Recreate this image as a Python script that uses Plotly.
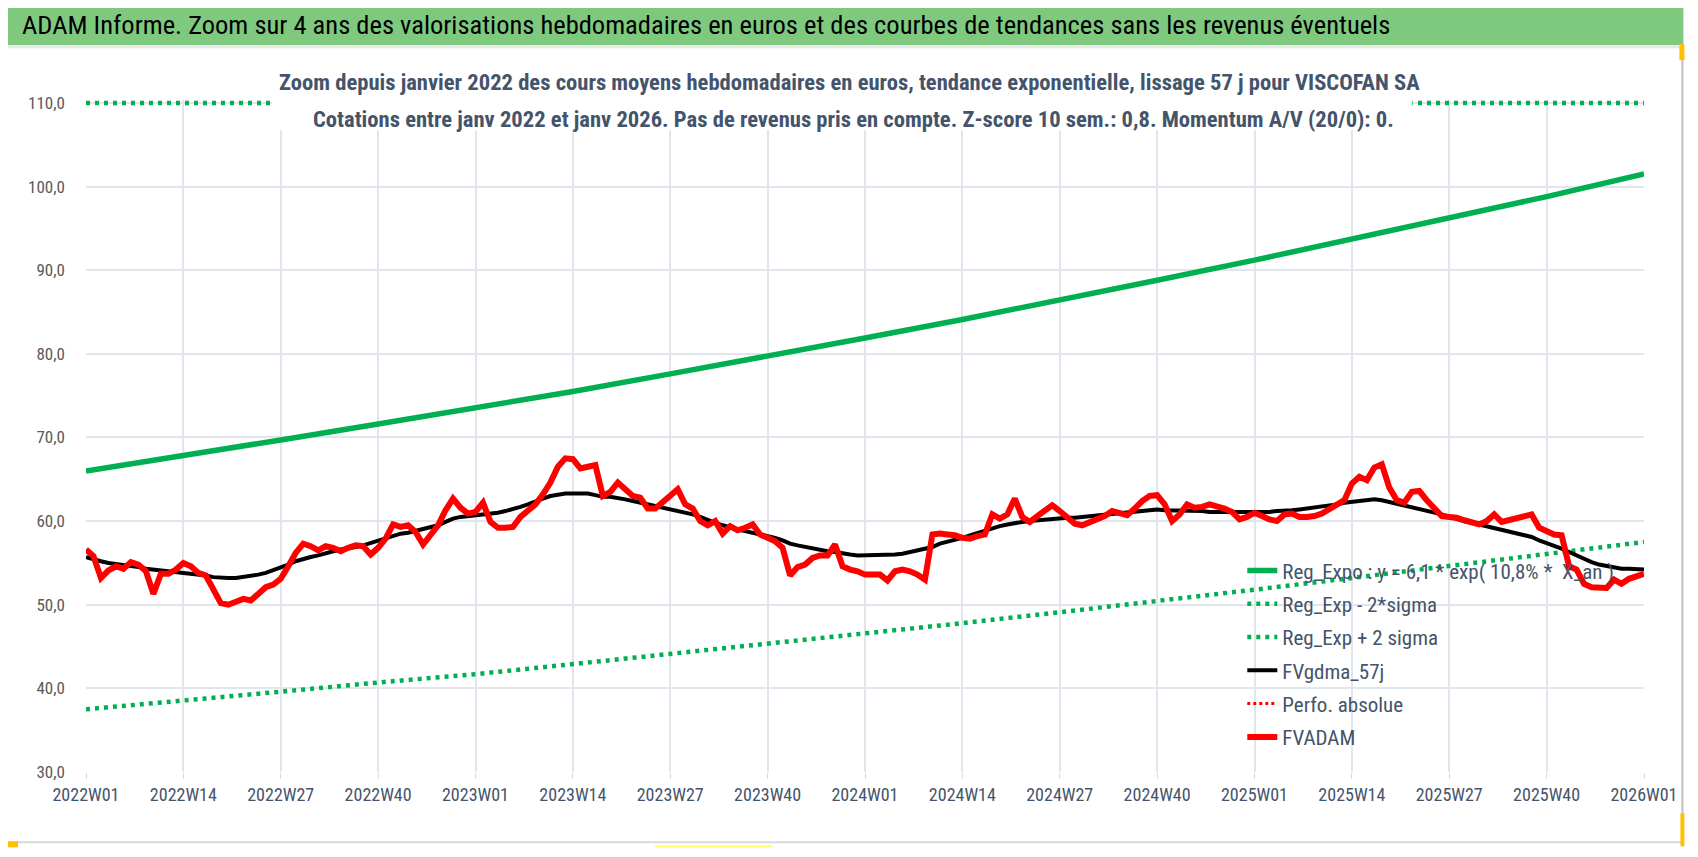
import plotly.graph_objects as go

# ---------------- data ----------------
years = [2022, 2023, 2024, 2025]
weeks = [f"{y}W{w:02d}" for y in years for w in range(1, 53)] + ["2026W01"]

tick_labels = ["2022W01", "2022W14", "2022W27", "2022W40",
               "2023W01", "2023W14", "2023W27", "2023W40",
               "2024W01", "2024W14", "2024W27", "2024W40",
               "2025W01", "2025W14", "2025W27", "2025W40", "2026W01"]

reg_expo = [66.0, 67.8, 69.7, 71.6, 73.5, 75.5, 77.6, 79.7, 81.9,
            84.1, 86.4, 88.8, 91.2, 93.7, 96.2, 98.8, 101.5]
reg_minus = [37.5, 38.5, 39.6, 40.7, 41.7, 42.9, 44.1, 45.3, 46.5,
             47.8, 49.1, 50.4, 51.8, 53.2, 54.6, 56.1, 57.5]
reg_plus = [110.0] * 17

fvadam = [
    56.6, 55.8, 53.2, 54.1, 54.6, 54.3, 55.1, 54.8, 54.0, 51.3,
    53.7, 53.7, 54.2, 55.0, 54.6, 53.8, 53.5, 52.0, 50.2, 50.0,
    50.4, 50.7, 50.5, 51.2, 52.1, 52.4, 53.1, 54.6, 56.2, 57.3,
    57.0, 56.5, 57.0, 56.8, 56.4, 56.8, 57.1, 57.0, 56.0, 56.8,
    57.9, 59.6, 59.3, 59.5, 58.7, 57.2, 58.3, 59.5, 61.3, 62.7,
    61.6, 60.9, 61.1, 62.2, 59.9, 59.2, 59.2, 59.3, 60.5, 61.2,
    62.0, 63.2, 64.6, 66.5, 67.5, 67.4, 66.3, 66.5, 66.7, 63.0,
    63.5, 64.6, 63.8, 63.0, 62.8, 61.5, 61.5, 62.3, 63.0, 63.8,
    62.0, 61.5, 60.0, 59.5, 60.0, 58.5, 59.4, 58.9, 59.2, 59.6,
    58.4, 58.0, 57.6, 56.8, 53.5, 54.5, 54.8, 55.6, 55.9, 55.9,
    57.2, 54.6, 54.2, 54.0, 53.6, 53.6, 53.6, 52.9, 54.0, 54.2,
    54.0, 53.6, 53.0, 58.4, 58.5, 58.4, 58.3, 58.0, 57.9, 58.2,
    58.4, 60.8, 60.3, 60.8, 62.7, 60.5, 59.9, 60.6, 61.2, 61.9,
    61.2, 60.5, 59.7, 59.5, 59.9, 60.2, 60.6, 61.2, 61.0, 60.7,
    61.5, 62.4, 63.0, 63.1, 62.0, 60.0, 60.8, 62.0, 61.6, 61.7,
    62.0, 61.8, 61.5, 61.1, 60.2, 60.5, 61.0, 60.6, 60.2, 60.0,
    60.8, 60.9, 60.5, 60.5, 60.6, 60.9, 61.5, 62.0, 62.5, 64.5,
    65.3, 64.9, 66.4, 66.8, 64.0, 62.5, 62.2, 63.5, 63.6, 62.5,
    61.5, 60.6, 60.5, 60.4, 60.1, 59.8, 59.6, 60.0, 60.8, 59.9,
    60.1, 60.3, 60.5, 60.8, 59.2, 58.7, 58.4, 58.3, 54.6, 54.2,
    52.5, 52.1, 52.0, 52.0, 53.0, 52.5, 53.1, 53.4, 53.7,
]

fvgdma = [
    55.7, 55.4, 55.2, 55.0, 54.9, 54.8, 54.6, 54.5, 54.3, 54.2,
    54.1, 54.0, 53.9, 53.9, 53.8, 53.6, 53.5, 53.3, 53.2, 53.2,
    53.2, 53.3, 53.4, 53.6, 53.8, 54.1, 54.4, 54.8, 55.2, 55.5,
    55.7, 55.9, 56.2, 56.4, 56.6, 56.7, 56.9, 57.1, 57.4, 57.7,
    58.0, 58.3, 58.5, 58.6, 58.8, 59.1, 59.3, 59.5, 59.9, 60.3,
    60.5, 60.6, 60.7, 60.7, 60.8, 61.0, 61.2, 61.4, 61.7, 62.0,
    62.4, 62.7, 63.0, 63.2, 63.3, 63.3, 63.3, 63.3, 63.1, 62.9,
    62.9, 62.8, 62.6, 62.4, 62.2, 62.1, 61.9, 61.7, 61.5, 61.3,
    61.1, 60.8, 60.5, 60.1, 59.8, 59.5, 59.2, 59.0, 58.8, 58.6,
    58.5, 58.3, 58.0, 57.7, 57.3, 57.1, 56.9, 56.7, 56.6, 56.4,
    56.3, 56.1, 56.0, 55.9, 55.9, 55.9, 55.9, 55.9, 56.0, 56.1,
    56.3, 56.4, 56.6, 56.9, 57.3, 57.5, 57.8, 58.0, 58.3, 58.6,
    58.9, 59.1, 59.4, 59.6, 59.8, 59.9, 60.0, 60.1, 60.2, 60.3,
    60.4, 60.4, 60.4, 60.5, 60.6, 60.7, 60.8, 60.9, 61.0, 61.1,
    61.2, 61.3, 61.3, 61.4, 61.3, 61.3, 61.2, 61.2, 61.2, 61.2,
    61.1, 61.1, 61.0, 61.0, 61.0, 61.0, 61.0, 61.1, 61.1, 61.2,
    61.2, 61.3, 61.4, 61.5, 61.6, 61.7, 61.8, 62.0, 62.2, 62.3,
    62.5, 62.5, 62.6, 62.5, 62.3, 62.1, 61.9, 61.7, 61.5, 61.3,
    61.0, 60.8, 60.5, 60.2, 60.0, 59.8, 59.6, 59.4, 59.2, 59.0,
    58.8, 58.6, 58.3, 58.1, 57.7, 57.4, 57.1, 56.7, 56.3, 55.9,
    55.4, 55.1, 54.8, 54.6, 54.5, 54.3, 54.3, 54.2, 54.2,
]

perfo_absolue = [None]

title_text = ("ADAM Informe. Zoom sur 4 ans des valorisations hebdomadaires en euros "
              "et des courbes de tendances sans les revenus éventuels")
subtitle_1 = ("Zoom depuis janvier 2022 des cours moyens hebdomadaires en euros, "
              "tendance exponentielle, lissage 57 j pour VISCOFAN SA")
subtitle_2 = ("Cotations entre janv 2022 et janv 2026. Pas de revenus pris en compte. "
              "Z-score 10 sem.: 0,8. Momentum A/V (20/0): 0.")

# ---------------- layout geometry ----------------
# The page body adds an 8 px margin, so the figure is drawn 8 px smaller
# and every position (given in window pixels) is shifted by OFF.
OFF = 8
W, H = 1698 - 2 * OFF, 857 - 2 * OFF
PLOT_L, PLOT_R, PLOT_T, PLOT_B = 86, 1643.6, 99.8, 771.7   # window pixels
ML = PLOT_L - OFF
MR = W - (PLOT_R - OFF)
MT = PLOT_T - OFF
MB = H - (PLOT_B - OFF)
PW, PH = W - ML - MR, H - MT - MB


def px(x):
    return (x - OFF - ML) / PW


def py(y):
    return (H - MB - (y - OFF)) / PH


FONT = "Liberation Sans Narrow, Arial Narrow, Roboto Condensed, DejaVu Sans Condensed, sans-serif"
GREEN = "#00B050"
TXT = "#44546A"

fig = go.Figure()

fig.add_trace(go.Scatter(x=tick_labels, y=reg_expo, mode="lines",
                         name="Reg_Expo : y = 6,1 * exp( 10,8% *  X_an )",
                         line=dict(color=GREEN, width=5.5), legendgroup="a"))
fig.add_trace(go.Scatter(x=tick_labels, y=reg_minus, mode="lines",
                         name="Reg_Exp - 2*sigma",
                         line=dict(color=GREEN, width=4.5, dash="4px,5px"), legendgroup="b"))
fig.add_trace(go.Scatter(x=tick_labels, y=reg_plus, mode="lines",
                         name="Reg_Exp + 2 sigma",
                         line=dict(color=GREEN, width=4.5, dash="4px,5px"), legendgroup="c"))
fig.add_trace(go.Scatter(x=weeks, y=fvgdma, mode="lines", name="FVgdma_57j",
                         line=dict(color="#000000", width=4), legendgroup="d"))
fig.add_trace(go.Scatter(x=weeks[:1], y=perfo_absolue, mode="lines", name="Perfo. absolue",
                         line=dict(color="#FF0000", width=3, dash="3px,3px"), legendgroup="e"))
fig.add_trace(go.Scatter(x=weeks, y=fvadam, mode="lines", name="FVADAM",
                         line=dict(color="#FF0000", width=6), legendgroup="f"))

shapes = [
    # green title bar
    dict(type="rect", xref="paper", yref="paper", x0=px(3), x1=px(1683), y0=py(45), y1=py(4),
         line=dict(width=0), fillcolor="#7FC97F", layer="below"),
    dict(type="line", xref="paper", yref="paper", x0=px(3), x1=px(1683), y0=py(47), y1=py(47),
         line=dict(color="#E6E6E6", width=2)),
    # inner frame (bottom and right)
    dict(type="line", xref="paper", yref="paper", x0=px(2), x1=px(1682), y0=py(842), y1=py(842),
         line=dict(color="#D9D9D9", width=2)),
    dict(type="line", xref="paper", yref="paper", x0=px(1682), x1=px(1682), y0=py(48), y1=py(842),
         line=dict(color="#BFBFBF", width=2)),
    # white box behind the subtitle (hides top dotted line)
    dict(type="rect", xref="paper", yref="paper", x0=px(272), x1=px(1412), y0=py(130), y1=py(64),
         line=dict(width=0), fillcolor="white", layer="above"),
    # selection handles
    dict(type="rect", xref="paper", yref="paper", x0=px(8), x1=px(18), y0=py(847), y1=py(841),
         line=dict(width=0), fillcolor="#FFC000", layer="above"),
    dict(type="line", xref="paper", yref="paper", x0=px(655), x1=px(772), y0=py(846), y1=py(846),
         line=dict(color="#FFFF66", width=2)),
    dict(type="rect", xref="paper", yref="paper", x0=px(1679), x1=px(1684), y0=py(60), y1=py(44),
         line=dict(width=0), fillcolor="#FFC000", layer="above"),
    dict(type="rect", xref="paper", yref="paper", x0=px(1680), x1=px(1684), y0=py(846), y1=py(813),
         line=dict(width=0), fillcolor="#FFC000", layer="above"),
]

annotations = [
    dict(text=title_text, xref="paper", yref="paper", x=px(20), y=py(24),
         xanchor="left", yanchor="middle", showarrow=False,
         font=dict(family=FONT, size=26.5, color="#000000")),
    dict(text="<b>" + subtitle_1 + "</b>", xref="paper", yref="paper", x=px(849), y=py(82),
         xanchor="center", yanchor="middle", showarrow=False,
         font=dict(family=FONT, size=22.6, color=TXT)),
    dict(text="<b>" + subtitle_2 + "</b>", xref="paper", yref="paper", x=px(853), y=py(119),
         xanchor="center", yanchor="middle", showarrow=False,
         font=dict(family=FONT, size=22.6, color=TXT)),
]

fig.update_layout(
    width=W, height=H,
    margin=dict(l=ML, r=MR, t=MT, b=MB, autoexpand=False),
    paper_bgcolor="white", plot_bgcolor="white",
    separators=", ",
    showlegend=True,
    legend=dict(x=px(1242), y=py(550), xanchor="left", yanchor="top",
                bgcolor="rgba(0,0,0,0)", font=dict(family=FONT, size=21, color=TXT),
                traceorder="grouped", tracegroupgap=3, itemwidth=30),
    shapes=shapes,
    annotations=annotations,
    xaxis=dict(type="category", categoryorder="array", categoryarray=weeks,
               range=[0, 208], tickmode="array", tickvals=tick_labels, ticktext=tick_labels,
               showgrid=True, gridcolor="#E1E5EC", gridwidth=1.5,
               ticks="outside", ticklen=6, tickcolor="#D9D9D9",
               tickfont=dict(family=FONT, size=18, color=TXT), tickangle=0,
               showline=False, zeroline=False, fixedrange=True),
    yaxis=dict(range=[30, 110.35], tickmode="array",
               tickvals=[30, 40, 50, 60, 70, 80, 90, 100, 110], tickformat=".1f",
               showgrid=True, gridcolor="#E1E5EC", gridwidth=1.5,
               tickfont=dict(family=FONT, size=17, color="#595959"),
               ticklabelstandoff=20,
               showline=False, zeroline=False, fixedrange=True),
)

fig.write_html("out.html")
